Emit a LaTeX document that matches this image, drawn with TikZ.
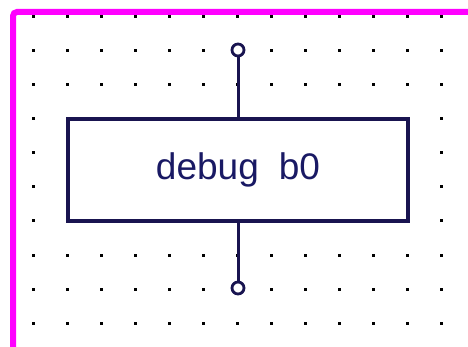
\documentclass[tikz,border=0pt]{standalone}
\usepackage{fontspec}
\setmainfont{Liberation Sans}
\usepackage{tikz}
\usetikzlibrary{positioning}
\definecolor{framemag}{RGB}{255, 0, 255}
\definecolor{wirenavy}{RGB}{25, 20, 80}
\definecolor{textnavy}{RGB}{25, 25, 100}

\begin{document}
\begin{tikzpicture}[
        x=1pt, y=-1pt,
        block/.style={draw=wirenavy, line width=3.2pt, fill=white, minimum width=340pt,
                      minimum height=102pt, inner sep=0pt, font=\fontsize{37}{40}\selectfont,
                      text=textnavy},
        pin/.style={circle, draw=wirenavy, line width=2.8pt, fill=white, minimum size=12pt,
                    inner sep=0pt},
        wire/.style={draw=wirenavy, line width=3pt}
      ]
        \useasboundingbox (0,0) rectangle (468,347);
        \fill[white] (0,0) rectangle (468,347);
        % grid dots
        \foreach \col in {0,...,12}
          \foreach \row in {0,...,9}
            \fill[black] (33+34*\col-1.5, 17+34*\row-1.5) rectangle ++(3,3);
        % frame
        \draw[framemag, line width=6pt, rounded corners=4pt] (13,350) -- (13,12) -- (472,12);
        \node[block] (dbg) at (238,170) {debug\hspace{20pt}b0};
        \node[pin] (pintop) at (238,50) {};
        \node[pin] (pinbot) at (238,288) {};
        \draw[wire] (pintop) -- (dbg);
        \draw[wire] (dbg) -- (pinbot);
      \end{tikzpicture}
\end{document}
